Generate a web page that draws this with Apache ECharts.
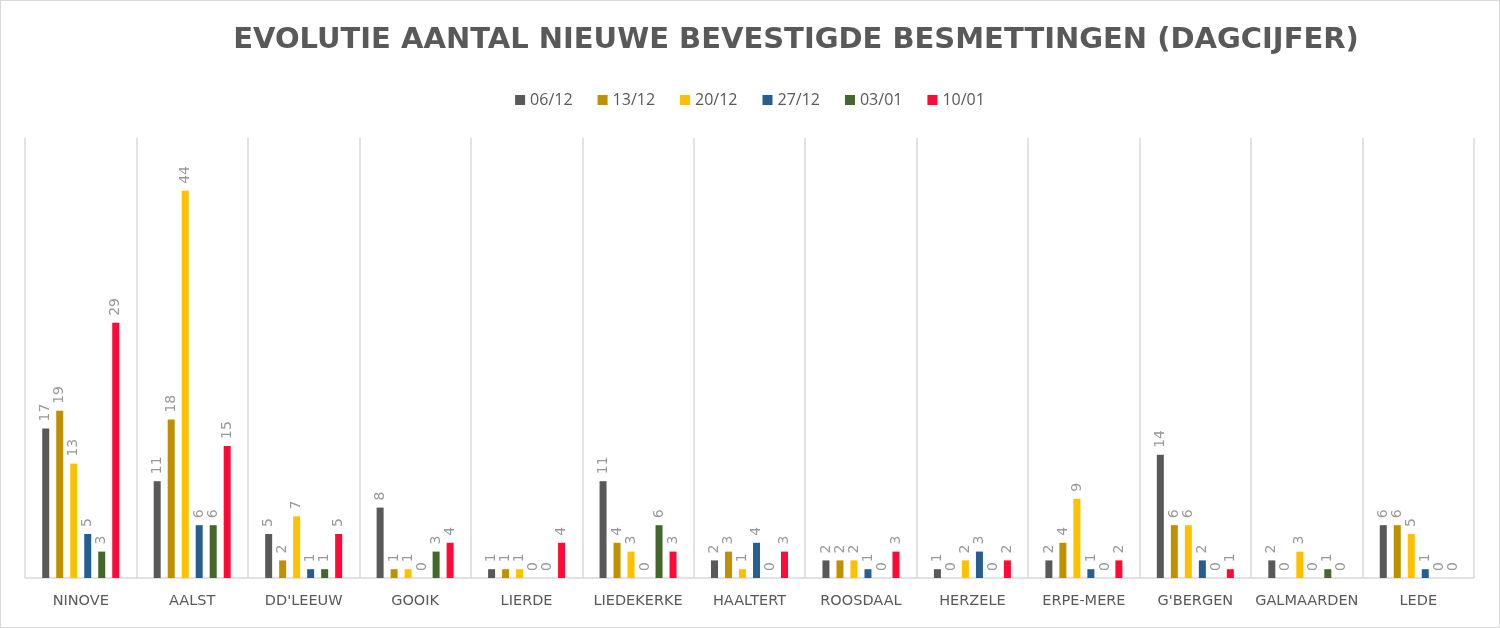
<!DOCTYPE html>
<html><head><meta charset="utf-8">
<script src="https://cdn.jsdelivr.net/npm/echarts@6/dist/echarts.min.js"></script>
<style>
html,body{margin:0;padding:0;background:#fff;}
#c{width:1498px;height:626px;border:1px solid #d9d9d9;}
</style></head>
<body><div id="c"></div>
<script>
const categories = ["NINOVE","AALST","DD'LEEUW","GOOIK","LIERDE","LIEDEKERKE","HAALTERT","ROOSDAAL","HERZELE","ERPE-MERE","G'BERGEN","GALMAARDEN","LEDE"];
const seriesNames = ["06/12","13/12","20/12","27/12","03/01","10/01"];
const s0612 = [17,11,5,8,1,11,2,2,1,2,14,2,6];
const s1312 = [19,18,2,1,1,4,3,2,0,4,6,0,6];
const s2012 = [13,44,7,1,1,3,1,2,2,9,6,3,5];
const s2712 = [5,6,1,0,0,0,4,1,3,1,2,0,1];
const s0301 = [3,6,1,3,0,6,0,0,0,0,0,1,0];
const s1001 = [29,15,5,4,4,3,3,3,2,2,1,0,0];
const seriesData = [s0612,s1312,s2012,s2712,s0301,s1001];
const colors = ["#595959","#BF9000","#FFC000","#255E91","#43682B","#FF0A37"];

const chart = echarts.init(document.getElementById('c'));
chart.setOption({
  animation:false,
  color: colors,
  title:{
    text:"EVOLUTIE AANTAL NIEUWE BEVESTIGDE BESMETTINGEN (DAGCIJFER)",
    left:790, top:20, textAlign:'center',
    textStyle:{fontFamily:'DejaVu Sans', fontWeight:'bold', fontSize:29, color:'#595959'}
  },
  legend:{
    top:86, left:'center', itemWidth:10, itemHeight:10, itemGap:25,
    icon:'rect',
    textStyle:{fontFamily:'Open Sans', fontSize:16, color:'#595959'},
    data: seriesNames
  },
  grid:{left:24, right:25, top:137, bottom:49, containLabel:false},
  xAxis:{
    type:'category', data:categories, boundaryGap:true,
    axisLine:{lineStyle:{color:'#d9d9d9', width:1.5}},
    axisTick:{show:false},
    splitLine:{show:true, lineStyle:{color:'#d9d9d9', width:1.5}},
    axisLabel:{interval:0, margin:16, fontFamily:'DejaVu Sans', fontSize:14.5, color:'#595959'}
  },
  yAxis:{type:'value', min:0, max:50, show:false, splitLine:{show:false}},
  series: seriesNames.map((n,i)=>({
    name:n, type:'bar', data:seriesData[i], barWidth:7, barGap:'100%',
    label:{show:true, position:'top', rotate:90, align:'left', verticalAlign:'middle', distance:7,
      fontFamily:'DejaVu Sans', fontSize:14, color:'#999999'}
  }))
});
</script></body></html>
